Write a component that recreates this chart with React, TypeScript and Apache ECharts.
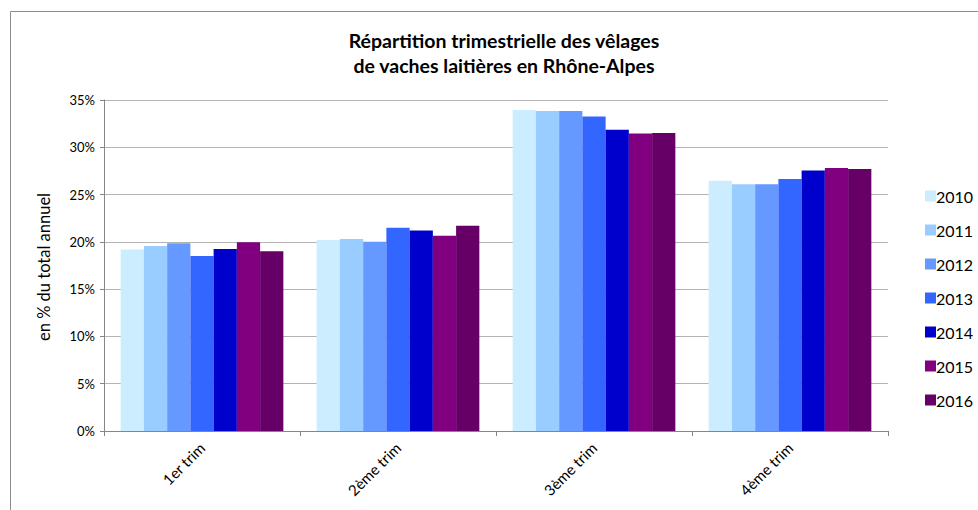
import React, { useEffect, useRef } from "react";
import * as echarts from "echarts";

const categories = ["1er trim", "2ème trim", "3ème trim", "4ème trim"];
const years = ["2010", "2011", "2012", "2013", "2014", "2015", "2016"];
const colors = ["#CCECFF", "#99CCFF", "#6699FF", "#3366FF", "#0000CC", "#800080", "#660066"];
const v2010 = [19.2, 20.2, 33.95, 26.45];
const v2011 = [19.55, 20.3, 33.85, 26.1];
const v2012 = [19.85, 20.0, 33.85, 26.1];
const v2013 = [18.5, 21.5, 33.25, 26.65];
const v2014 = [19.25, 21.2, 31.85, 27.55];
const v2015 = [19.95, 20.65, 31.45, 27.8];
const v2016 = [19.0, 21.7, 31.5, 27.7];
const seriesValues = [v2010, v2011, v2012, v2013, v2014, v2015, v2016];
const yAxisName = "en % du total annuel";

const FONT = "Lato, 'Open Sans', sans-serif";

export default function App() {
  const ref = useRef<HTMLDivElement>(null);
  useEffect(() => {
    const chart = echarts.init(ref.current!, null, { renderer: "svg" });
    chart.setOption({
      animation: false,
      backgroundColor: "#ffffff",
      graphic: [
        {
          type: "rect",
          shape: { x: 10.5, y: 11.5, width: 1200, height: 800 },
          style: { fill: "none", stroke: "#8c8c8c", lineWidth: 1 },
          silent: true,
        },
        {
          type: "text",
          x: 44,
          y: 267,
          rotation: Math.PI / 2,
          style: {
            text: yAxisName,
            fontFamily: FONT,
            fontSize: 16.5,
            fill: "#000",
            align: "center",
            verticalAlign: "middle",
          },
          silent: true,
        },
      ],
      title: {
        text: "Répartition trimestrielle des vêlages\nde vaches laitières en Rhône-Alpes",
        left: 499,
        top: 23,
        textAlign: "center",
        textStyle: { fontFamily: FONT, fontSize: 19.5, fontWeight: "bold", color: "#000", lineHeight: 25 },
      },
      legend: {
        orient: "vertical",
        left: 920,
        top: 183,
        itemWidth: 11,
        itemHeight: 11,
        itemGap: 18,
        icon: "rect",
        data: years,
        textStyle: { fontFamily: FONT, fontSize: 16, color: "#000", padding: [0, 0, 0, -5] },
      },
      grid: { left: 104, right: 90, top: 100, bottom: 79 },
      xAxis: {
        type: "category",
        data: categories,
        axisLine: { lineStyle: { color: "#868686" } },
        axisTick: { show: true, length: 5, lineStyle: { color: "#868686" } },
        axisLabel: { rotate: 45, fontFamily: FONT, fontSize: 15, color: "#000", margin: 14 },
      },
      yAxis: {
        type: "value",
        min: 0,
        max: 35,
        interval: 5,
        axisLine: { show: true, lineStyle: { color: "#868686" } },
        axisTick: { show: true, length: 4, inside: false, lineStyle: { color: "#868686" } },
        axisLabel: { formatter: "{value}%", fontFamily: FONT, fontSize: 13, color: "#000", margin: 9 },
        splitLine: { lineStyle: { color: "#b3b3b3" } },
      },
      series: years.map((y, i) => ({
        name: y,
        type: "bar",
        data: seriesValues[i],
        itemStyle: { color: colors[i] },
        barGap: "0%",
        barCategoryGap: "17%",
      })),
    });
    return () => chart.dispose();
  }, []);
  return <div ref={ref} style={{ position: "fixed", left: 0, top: 0, width: 978, height: 510 }} />;
}
